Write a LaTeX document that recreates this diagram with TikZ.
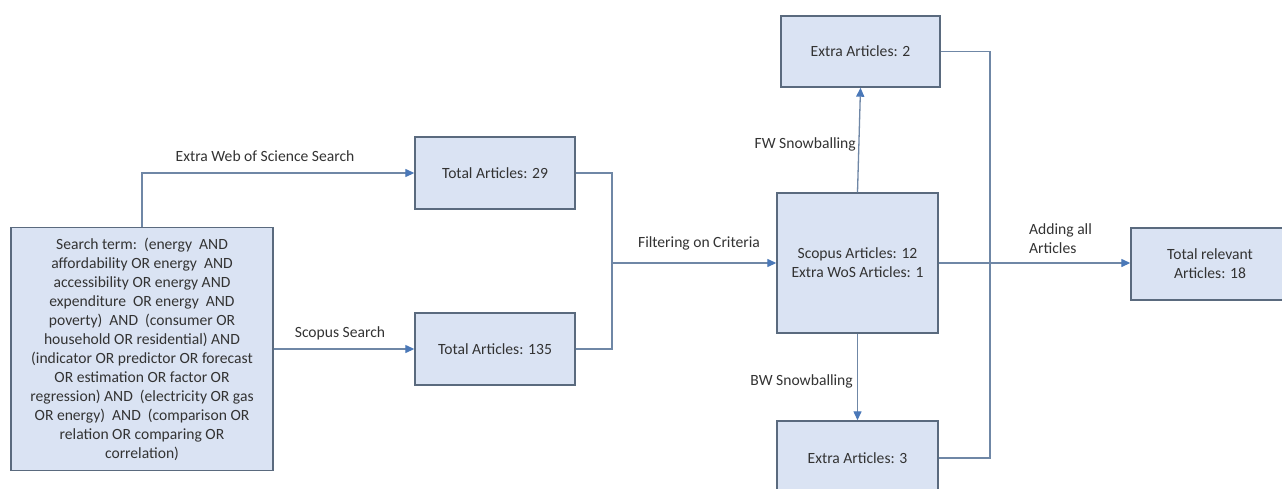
\documentclass[tikz,border=0pt]{standalone}
\usepackage{fontspec}
\setmainfont{Carlito}
\usetikzlibrary{arrows.meta}
\definecolor{boxfill}{HTML}{DAE3F3}
\definecolor{boxline}{HTML}{5A6A7E}
\definecolor{conline}{HTML}{6F87A6}
\definecolor{tipblue}{HTML}{4A78B8}
\definecolor{txt}{HTML}{333333}
\tikzset{
  flowbox/.style={draw=boxline, fill=boxfill, line width=1.4pt, rectangle, inner sep=0pt, align=center, text=txt, font=\fontsize{15.6}{19}\selectfont},
  conn/.style={draw=conline, line width=1.3pt},
  arr/.style={conn, -{Triangle[length=9pt,width=8pt,color=tipblue]}},
  lbl/.style={text=txt, font=\fontsize{15.6}{19}\selectfont, inner sep=0pt}
}
\begin{document}
\begin{tikzpicture}[x=1pt,y=-1pt]
\useasboundingbox (0,0) rectangle (1282,488);
\clip (0,0) rectangle (1282,488);
\fill[white] (0,0) rectangle (1282,488);

\node[flowbox, minimum width=262pt, minimum height=243pt] (search) at (142,349) {Search term:\ \ (energy\ \ AND\\affordability OR energy\ \ AND\\accessibility OR energy AND\\expenditure\ \ OR energy\ \ AND\\poverty)\ \ AND\ \ (consumer OR\\household OR residential) AND\\(indicator OR predictor OR forecast\\OR estimation OR factor OR\\regression) AND\ \ (electricity OR gas\\OR energy)\ \ AND\ \ (comparison OR\\relation OR comparing OR\\correlation)};
\node[flowbox, minimum width=160pt, minimum height=72pt] (t29) at (495,173) {Total Articles: 29};
\node[flowbox, minimum width=160pt, minimum height=72pt] (t135) at (495,349) {Total Articles: 135};
\node[flowbox, minimum width=161pt, minimum height=140pt] (scopus) at (857.5,263) {Scopus Articles: 12\\Extra WoS Articles: 1};
\node[flowbox, minimum width=159pt, minimum height=71pt] (ex2) at (860.5,51.5) {Extra Articles: 2};
\node[flowbox, minimum width=161pt, minimum height=74pt] (ex3) at (857.5,458) {Extra Articles: 3};
\node[flowbox, minimum width=158pt, minimum height=72pt] (total) at (1210,264) {Total relevant\\Articles: 18};

\coordinate (join) at (612,263);
\coordinate (rjoin) at (990,263);

\draw[arr] (search.north) |- (t29.west);
\draw[arr] (search.east) -- (t135.west);
\draw[conn] (t29.east) -| (join);
\draw[conn] (t135.east) -| (join);
\draw[arr] (join) -- (scopus.west);
\draw[arr] (scopus.north) -- (ex2.south);
\draw[arr] (scopus.south) -- (ex3.north);
\draw[conn] (ex2.east) -| (rjoin);
\draw[conn] (ex3.east) -| (rjoin);
\draw[arr] (scopus.east) -- (total.west |- scopus.east);

\node[lbl] (l1) at (265,156) {Extra Web of Science Search};
\node[lbl] (l2) at (340,333) {Scopus Search};
\node[lbl] (l3) at (699,243) {Filtering on Criteria};
\node[lbl, anchor=east] (l4) at (856,144) {FW Snowballing};
\node[lbl, anchor=east] (l5) at (853,381) {BW Snowballing};
\node[lbl, anchor=west, align=left] (l6) at (1029,239) {Adding all\\Articles};
\end{tikzpicture}
\end{document}
